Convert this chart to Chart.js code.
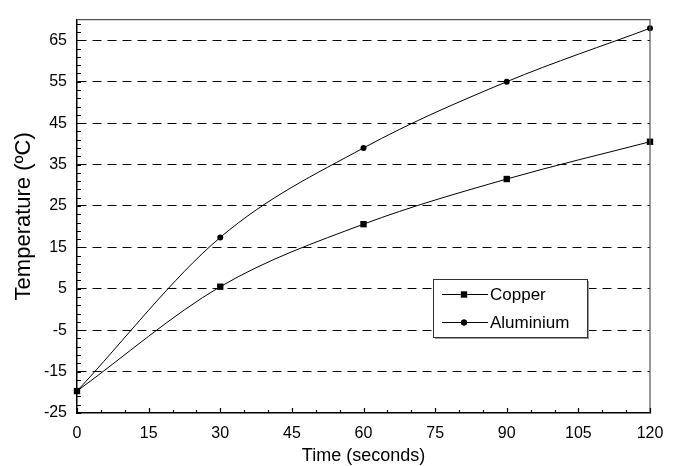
<!DOCTYPE html>
<html><head><meta charset="utf-8">
<script src="https://cdn.jsdelivr.net/npm/chart.js@4"></script>
<style>html,body{margin:0;padding:0;background:#fff}#wrap{width:677px;height:466px}</style>
</head><body><div id="wrap"><canvas id="c" width="677" height="466"></canvas></div>
<script>
const timeSeconds = [0, 30, 60, 90, 120];
const copperTemps = [-19.7, 5.5, 20.6, 31.5, 40.5];
const aluminiumTemps = [-19.7, 17.4, 39.0, 55.0, 67.9];
const xTickValues = [0, 15, 30, 45, 60, 75, 90, 105, 120];
const yTickValues = [-25, -15, -5, 5, 15, 25, 35, 45, 55, 65];
const seriesNames = ['Copper', 'Aluminium'];
const xTitle = 'Time (seconds)';
const yTitle = 'Temperature (\u00BAC)';

const FONT = "'Liberation Sans', Arial, sans-serif";

const framePlugin = {
  id: 'frame',
  afterDraw(chart) {
    const ctx = chart.ctx;
    const a = chart.chartArea;
    const xs = chart.scales.x, ys = chart.scales.y;
    ctx.save();
    // top & right frame
    ctx.strokeStyle = '#555';
    ctx.lineWidth = 1.2;
    ctx.beginPath();
    ctx.moveTo(a.left, a.top); ctx.lineTo(a.right, a.top); ctx.lineTo(a.right, a.bottom);
    ctx.stroke();
    // inward ticks
    ctx.strokeStyle = '#000';
    ctx.lineWidth = 1.2;
    ctx.beginPath();
    for (let v = ys.min; v <= ys.max + 1e-9; v += 2) {
      const y = Math.round(ys.getPixelForValue(v)) + 0.5;
      ctx.moveTo(a.left, y); ctx.lineTo(a.left + 4, y);
    }
    for (let v = xs.min; v <= xs.max + 1e-9; v += 5) {
      const x = Math.round(xs.getPixelForValue(v)) + 0.5;
      const len = (v % 15 === 0) ? 5 : 3;
      ctx.moveTo(x, a.bottom); ctx.lineTo(x, a.bottom - len);
    }
    ctx.stroke();
    // legend
    const bx = 433, by = 279, bw = 154, bh = 58;
    ctx.fillStyle = '#999';
    ctx.fillRect(bx + 2, by + 2, bw, bh);
    ctx.fillStyle = '#fff';
    ctx.fillRect(bx, by, bw, bh);
    ctx.strokeStyle = '#333';
    ctx.lineWidth = 1;
    ctx.strokeRect(bx + 0.5, by + 0.5, bw, bh);
    chart.data.datasets.forEach((ds, i) => {
      const ry = by + 15 + i * 28;
      ctx.strokeStyle = '#000';
      ctx.lineWidth = 1;
      ctx.beginPath();
      ctx.moveTo(bx + 9, ry + 0.5); ctx.lineTo(bx + 55, ry + 0.5);
      ctx.stroke();
      Chart.helpers.drawPoint(ctx, {pointStyle: ds.pointStyle, radius: ds.pointRadius, borderWidth: 0, rotation: 0}, bx + 31, ry + 0.5);
      ctx.fillStyle = '#000';
      ctx.fill();
      ctx.font = '17px ' + FONT;
      ctx.textBaseline = 'middle';
      ctx.textAlign = 'left';
      ctx.fillText(ds.label, bx + 57, ry + 1);
    });
    ctx.restore();
  }
};

new Chart(document.getElementById('c'), {
  type: 'line',
  data: {
    datasets: [
      {
        label: seriesNames[0],
        data: timeSeconds.map((t, i) => ({x: t, y: copperTemps[i]})),
        borderColor: '#000', backgroundColor: '#000', borderWidth: 1,
        pointStyle: 'rect', pointRadius: 4.5, pointBorderWidth: 0,
        cubicInterpolationMode: 'monotone', clip: false
      },
      {
        label: seriesNames[1],
        data: timeSeconds.map((t, i) => ({x: t, y: aluminiumTemps[i]})),
        borderColor: '#000', backgroundColor: '#000', borderWidth: 1,
        pointStyle: 'circle', pointRadius: 3, pointBorderWidth: 0,
        cubicInterpolationMode: 'monotone', clip: false
      }
    ]
  },
  options: {
    responsive: false,
    animation: false,
    devicePixelRatio: 1,
    layout: {padding: {top: 9, right: 27, left: 0, bottom: 0}},
    plugins: {legend: {display: false}, tooltip: {enabled: false}},
    scales: {
      x: {
        type: 'linear', min: 0, max: 120,
        afterBuildTicks: s => { s.ticks = xTickValues.map(v => ({value: v})); },
        afterFit: s => { s.height = 53; },
        grid: {display: false, drawTicks: false},
        border: {display: true, color: '#000', width: 1.5},
        ticks: {color: '#000', font: {family: FONT, size: 16}, padding: 11, maxRotation: 0, autoSkip: false},
        title: {display: true, text: xTitle, color: '#000', font: {family: FONT, size: 18, lineHeight: 1}, padding: {top: 0, bottom: 1}}
      },
      y: {
        type: 'linear', min: -25, max: 70,
        afterBuildTicks: s => { s.ticks = yTickValues.map(v => ({value: v})); },
        afterFit: s => { s.width = 77; },
        grid: {
          drawTicks: false, lineWidth: 1,
          color: c => (c.tick && c.tick.value === -25) ? 'rgba(0,0,0,0)' : '#000'
        },
        border: {display: true, color: '#000', width: 1.5, dash: [9, 6]},
        ticks: {color: '#000', font: {family: FONT, size: 16}, padding: 10, autoSkip: false},
        title: {display: true, text: yTitle, color: '#000', font: {family: FONT, size: 22, lineHeight: 1}, padding: {top: 13, bottom: 0}}
      }
    }
  },
  plugins: [framePlugin]
});
</script>
</body></html>
